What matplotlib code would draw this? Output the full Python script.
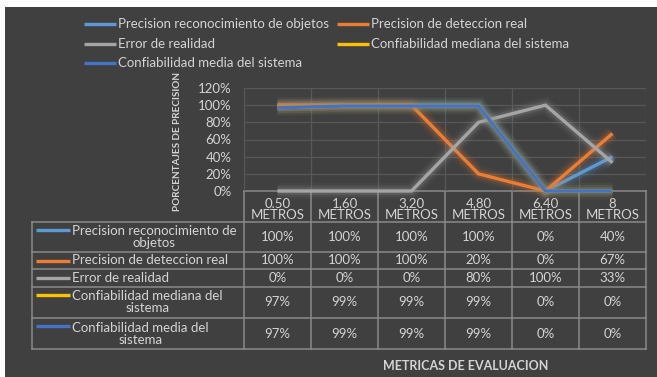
import textwrap
import matplotlib
matplotlib.use("Agg")
import matplotlib.pyplot as plt
from matplotlib import patheffects as pe
from matplotlib.patches import Rectangle

# ---- data -------------------------------------------------------------
distancias = ["0.50", "1,60", "3,20", "4,80", "6,40", "8"]
unidad = "METROS"

series = [
    "Precision reconocimiento de objetos",
    "Precision de deteccion real",
    "Error de realidad",
    "Confiabilidad mediana del sistema",
    "Confiabilidad media del sistema",
]
reconocimiento = [100, 100, 100, 100, 0, 40]
deteccion = [100, 100, 100, 20, 0, 67]
error_realidad = [0, 0, 0, 80, 100, 33]
conf_mediana = [97, 99, 99, 99, 0, 0]
conf_media = [97, 99, 99, 99, 0, 0]
valores = [reconocimiento, deteccion, error_realidad, conf_mediana, conf_media]

y_ticks = [0, 20, 40, 60, 80, 100, 120]
y_label = "PORCENTAJES DE PRECISION"
x_label = "METRICAS DE EVALUACION"

# ---- style ------------------------------------------------------------
colores = ["#5B9BD5", "#ED7D31", "#A5A5A5", "#FFC000", "#4472C4"]
FONDO = "#404040"
TEXTO = "#D4D4D4"
BORDE = "#8A8A8A"
REJILLA = "#585858"
FS = 9.5
plt.rcParams["font.family"] = ["Lato", "DejaVu Sans"]

W, H = 657, 377
fig = plt.figure(figsize=(W / 100, H / 100), dpi=100)
fig.patch.set_facecolor("white")

# overlay in pixel coordinates for background, legend and data table
ov = fig.add_axes([0, 0, 1, 1], zorder=0)
ov.set_xlim(0, W)
ov.set_ylim(H, 0)
ov.axis("off")
ov.add_patch(Rectangle((5, 7), W - 5, H - 7, facecolor=FONDO, edgecolor="none"))

# ---- plot area --------------------------------------------------------
cols = [244, 311, 378, 445, 512, 579, 646]
y_top, y_zero = 88, 191
ax = fig.add_axes([cols[0] / W, (H - y_zero) / H, (cols[-1] - cols[0]) / W,
                   (y_zero - y_top) / H], zorder=1)
ax.set_facecolor("none")
n = len(distancias)
ax.set_xlim(-0.5, n - 0.5)
ax.set_ylim(0, 120)
for s in ax.spines.values():
    s.set_visible(False)
ax.set_yticks(y_ticks)
ax.set_yticklabels([f"{v}%" for v in y_ticks], color=TEXTO, fontsize=FS)
ax.tick_params(axis="y", length=0, pad=9)
ax.set_xticks([])
for v in y_ticks[1:]:
    ax.axhline(v, color=REJILLA, lw=0.9, zorder=0)
for i in range(n + 1):
    ax.axvline(i - 0.5, color=REJILLA, lw=0.9, zorder=0)

x = list(range(n))
for k, (vals, c) in enumerate(zip(valores, colores)):
    glow = [pe.Stroke(linewidth=12, foreground=c, alpha=0.05),
            pe.Stroke(linewidth=8.5, foreground=c, alpha=0.09),
            pe.Stroke(linewidth=5.5, foreground=c, alpha=0.16),
            pe.Normal()]
    ax.plot(x, vals, color=c, lw=2.4, solid_capstyle="butt",
            solid_joinstyle="miter", clip_on=False, zorder=3 + k,
            path_effects=glow)

fig.text(177 / W, 1 - 142 / H, y_label, rotation=90, ha="center", va="center",
         color=TEXTO, fontsize=7.2, fontweight="bold")

# ---- legend -----------------------------------------------------------
leg_pos = [(84, 24), (337, 24), (84, 44), (337, 44), (84, 63)]
for (lx, ly), nombre, c in zip(leg_pos, series, colores):
    ov.plot([lx, lx + 32], [ly, ly], color=c, lw=2.4, solid_capstyle="butt")
    ov.text(lx + 34, ly, nombre, color=TEXTO, fontsize=FS, ha="left",
            va="center")

# ---- data table -------------------------------------------------------
rows = [191, 221.5, 252, 269, 287, 318, 349]
x_left = 32
lw_t = 1.1
ov.plot([cols[0], cols[-1]], [rows[0], rows[0]], color=BORDE, lw=lw_t)
for r in rows[1:]:
    ov.plot([x_left, cols[-1]], [r, r], color=BORDE, lw=lw_t)
for cx in cols:
    ov.plot([cx, cx], [rows[0], rows[-1]], color=BORDE, lw=lw_t)
ov.plot([x_left, x_left], [rows[1], rows[-1]], color=BORDE, lw=lw_t)

centers = [(cols[i] + cols[i + 1]) / 2 for i in range(n)]
for cx, d in zip(centers, distancias):
    ov.text(cx, (rows[0] + rows[1]) / 2 + 3, f"{d}\n{unidad}", ha="center",
            va="center", color=TEXTO, fontsize=FS, linespacing=0.95)

for j, (nombre, vals, c) in enumerate(zip(series, valores, colores)):
    r0, r1 = rows[j + 1], rows[j + 2]
    mid = (r0 + r1) / 2
    etiqueta = textwrap.fill(nombre, 27)
    lineas = etiqueta.count("\n") + 1
    y_key = mid - 7.2 * (lineas - 1)
    ov.plot([36, 70], [y_key, y_key], color=c, lw=2.4, solid_capstyle="butt")
    ov.text(72, mid, etiqueta, ha="left", va="center", multialignment="center",
            color=TEXTO, fontsize=FS, linespacing=1.0)
    for cx, v in zip(centers, vals):
        ov.text(cx, mid, f"{v}%", ha="center", va="center", color=TEXTO,
                fontsize=FS)

fig.text(466 / W, 1 - 366 / H, x_label, ha="center", va="center", color=TEXTO,
         fontsize=9, fontweight="bold")

fig.savefig("out.png", dpi=100, facecolor=fig.get_facecolor())
